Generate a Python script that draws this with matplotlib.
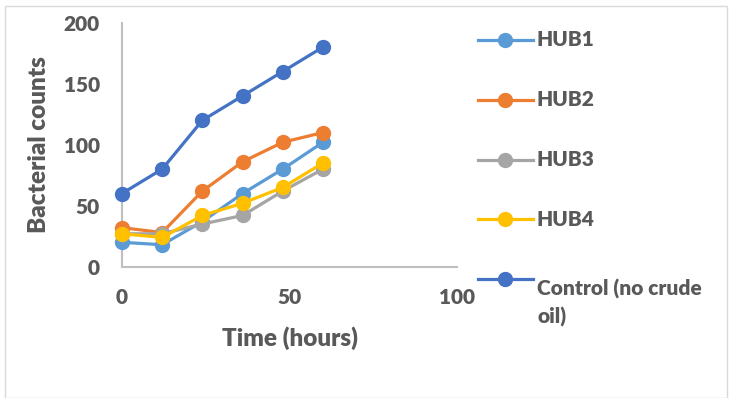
import matplotlib.pyplot as plt
from matplotlib.lines import Line2D
from matplotlib.patches import Rectangle

# sampling times (hours) and counts for each culture
hours = [0, 12, 24, 36, 48, 60]
hub1 = [20, 18, 37, 60, 80, 102]
hub2 = [32, 28, 62, 86, 102, 110]
hub3 = [27, 27, 35, 42, 62, 80]
hub4 = [27, 24, 42, 52, 65, 85]
control = [60, 80, 120, 140, 160, 180]

names = ['HUB1', 'HUB2', 'HUB3', 'HUB4', 'Control (no crude\noil)']
series = [hub1, hub2, hub3, hub4, control]
colors = ['#5B9BD5', '#ED7D31', '#A5A5A5', '#FFC000', '#4472C4']

plt.rcParams['font.family'] = ['Lato', 'DejaVu Sans']
txt = '#595959'
wt = 'heavy'

fig = plt.figure(figsize=(7.3, 3.98), dpi=100)
fig.patches.append(Rectangle((5 / 730, 0), 722 / 730, 392 / 398, transform=fig.transFigure,
                             fill=False, edgecolor='#D9D9D9', lw=1))

ax = fig.add_axes([122 / 730, 1 - 266.7 / 398, 335 / 730, 244 / 398])
for y, c in zip(series, colors):
    ax.plot(hours, y, color=c, lw=2.3, marker='o', ms=10, clip_on=False, zorder=3)

ax.set_xlim(0, 100)
ax.set_ylim(0, 200)
ax.set_xticks([0, 50, 100])
ax.set_yticks([0, 50, 100, 150, 200])
for s in ['top', 'right']:
    ax.spines[s].set_visible(False)
for s in ['left', 'bottom']:
    ax.spines[s].set_color('#BFBFBF')
    ax.spines[s].set_linewidth(1.5)
ax.tick_params(length=0, labelsize=15, labelcolor=txt)
ax.tick_params(axis='y', pad=16)
ax.tick_params(axis='x', pad=15)
for lab in ax.get_xticklabels() + ax.get_yticklabels():
    lab.set_fontweight(wt)

ax.set_xlabel('Time (hours)', fontsize=17.5, fontweight=wt, color=txt)
ax.set_ylabel('Bacterial counts', fontsize=17.5, fontweight=wt, color=txt)
ax.xaxis.set_label_coords(0.5, -0.245)
ax.yaxis.set_label_coords(-0.215, 0.5)

# legend on the right, drawn entry by entry
ys = [40, 100, 160, 219, 279]
for name, c, yp in zip(names, colors, ys):
    fy = 1 - yp / 398
    fig.add_artist(Line2D([478 / 730, 533 / 730], [fy, fy], color=c, lw=2.3,
                          transform=fig.transFigure))
    fig.add_artist(Line2D([505 / 730], [fy], color=c, marker='o', ms=10,
                          transform=fig.transFigure))
    fig.text(537 / 730, fy, name, fontsize=15, fontweight=wt, color=txt,
             va='top' if '\n' in name else 'center', linespacing=1.45,
             transform=fig.transFigure)

fig.savefig('out.png', dpi=100)
